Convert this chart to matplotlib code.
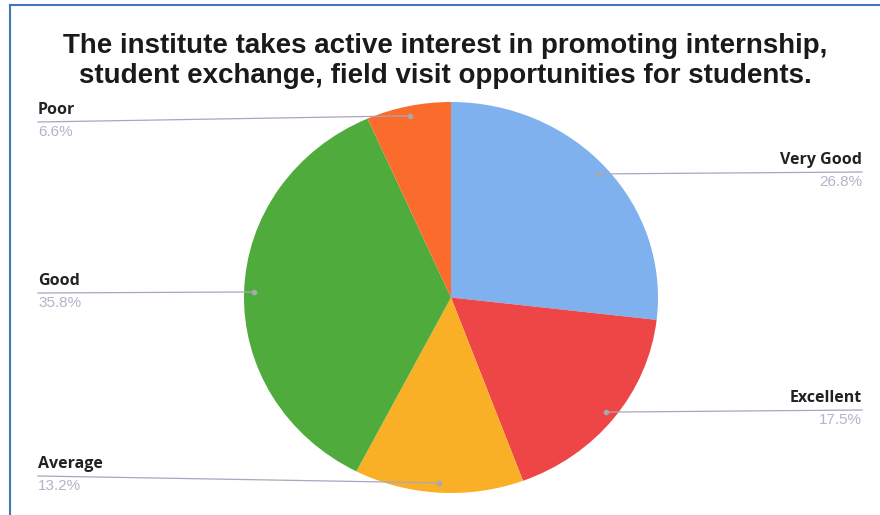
import numpy as np
import matplotlib.pyplot as plt
from matplotlib.lines import Line2D

# 数据
labels = ["Very Good", "Excellent", "Average", "Good", "Poor"]
values = [26.8, 17.5, 13.2, 35.8, 6.6]
colors = ["#80b1ef", "#ee4646", "#f9b026", "#4fab3c", "#fb6c2c"]
pct_text = ["26.8%", "17.5%", "13.2%", "35.8%", "6.6%"]

title = ("The institute takes active interest in promoting internship,\n"
         "student exchange, field visit opportunities for students.")

# 标签位置 (figure pixels): side, x, y of underline
label_pos = {
    "Very Good": ("right", 862, 343),
    "Excellent": ("right", 862, 105),
    "Average": ("left", 38, 39),
    "Good": ("left", 38, 222),
    "Poor": ("left", 38, 393),
}

W, H = 880, 515
fig = plt.figure(figsize=(W / 100, H / 100), dpi=100)
fig.patch.set_facecolor("white")

# 饼图区域
ax = fig.add_axes([244 / W, 22 / H, 414 / W, 391 / H])
wedges, _ = ax.pie(values, colors=colors, startangle=90, counterclock=False,
                   wedgeprops=dict(linewidth=0))
ax.set_aspect("auto")
ax.set_xlim(-1, 1)
ax.set_ylim(-1, 1)
ax.axis("off")

# 引线和标签
total = sum(values)
start = 90.0
for name, v, pct in zip(labels, values, pct_text):
    mid = start - v / total * 360 / 2
    start -= v / total * 360
    ang = np.deg2rad(mid)
    ax_x, ax_y = 0.95 * np.cos(ang), 0.95 * np.sin(ang)
    side, lx, ly = label_pos[name]
    px, py = ax.transData.transform((ax_x, ax_y))
    fig.add_artist(Line2D([px / W, lx / W], [py / H, ly / H], color="#a9a6bd",
                          lw=0.9, transform=fig.transFigure))
    fig.add_artist(Line2D([px / W], [py / H], marker="o", ms=3, color="#a8a8b0",
                          transform=fig.transFigure))
    ha = "left" if side == "left" else "right"
    fig.text(lx / W, (ly + 4) / H, name, ha=ha, va="bottom", fontsize=11.5,
             fontweight="bold", color="#222222", family="Open Sans")
    fig.text(lx / W, (ly - 3) / H, pct, ha=ha, va="top", fontsize=11,
             color="#b5b3c8", family="Liberation Sans")

fig.text(445 / W, 1 - 61 / H, title, ha="center", va="center", fontsize=20,
         fontweight="bold", color="#1a1a1a", family="Liberation Sans",
         linespacing=1.2)

# 边框
fig.add_artist(Line2D([10 / W, 1], [1 - 5 / H, 1 - 5 / H], color="#3f78b5", lw=1.5,
                      transform=fig.transFigure))
fig.add_artist(Line2D([10 / W, 10 / W], [0, 1 - 5 / H], color="#3f78b5", lw=1.5,
                      transform=fig.transFigure))

fig.savefig("out.png", dpi=100)
